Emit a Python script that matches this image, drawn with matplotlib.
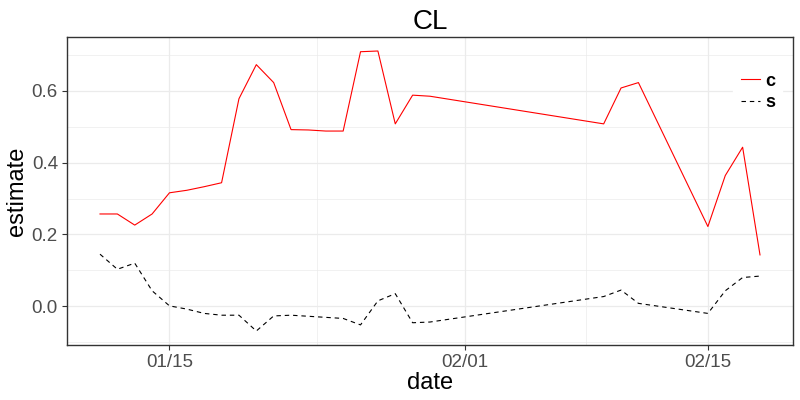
import numpy as np
import pandas as pd
import matplotlib
matplotlib.use('Agg')
import matplotlib.pyplot as plt
import matplotlib.dates as mdates

plt.rcParams['font.family'] = ['Liberation Sans', 'DejaVu Sans']

# dates shared by both series
dates = ['2024-01-11', '2024-01-12', '2024-01-13', '2024-01-14', '2024-01-15',
         '2024-01-16', '2024-01-17', '2024-01-18', '2024-01-19', '2024-01-20',
         '2024-01-21', '2024-01-22', '2024-01-23', '2024-01-24', '2024-01-25',
         '2024-01-26', '2024-01-27', '2024-01-28', '2024-01-29', '2024-01-30',
         '2024-02-09', '2024-02-10', '2024-02-11', '2024-02-15', '2024-02-16',
         '2024-02-17', '2024-02-18']
c_vals = [0.257, 0.257, 0.226, 0.257, 0.316,
          0.323, 0.333, 0.344, 0.578, 0.673,
          0.623, 0.492, 0.491, 0.488, 0.488,
          0.709, 0.711, 0.508, 0.588, 0.585,
          0.508, 0.608, 0.623, 0.222, 0.364,
          0.443, 0.143]
s_vals = [0.145, 0.103, 0.120, 0.043, 0.001,
          -0.008, -0.020, -0.025, -0.025, -0.069,
          -0.027, -0.025, -0.028, -0.031, -0.034,
          -0.052, 0.015, 0.035, -0.046, -0.044,
          0.027, 0.045, 0.008, -0.020, 0.043,
          0.080, 0.084]
x_ticks = ['2024-01-15', '2024-02-01', '2024-02-15']
x_minor = ['2024-01-08T00:00', '2024-01-23T12:00', '2024-02-08T00:00']
y_ticks = [0.0, 0.2, 0.4, 0.6]
y_minor = [-0.1, 0.1, 0.3, 0.5, 0.7]

d = pd.to_datetime(dates)

fig = plt.figure(figsize=(8, 4), dpi=100)
ax = fig.add_axes([67 / 800, 1 - 345 / 400, (793 - 67) / 800, (345 - 37) / 400])

grid_col = '#EBEBEB'
for v in y_minor:
    ax.axhline(v, color=grid_col, lw=0.5, zorder=0)
for v in y_ticks:
    ax.axhline(v, color=grid_col, lw=0.9, zorder=0)
for v in pd.to_datetime(x_minor, format='ISO8601'):
    ax.axvline(v, color=grid_col, lw=0.5, zorder=0)
for v in pd.to_datetime(x_ticks):
    ax.axvline(v, color=grid_col, lw=0.9, zorder=0)

ax.plot(d, c_vals, color='red', lw=0.8, label='c', zorder=3)
ax.plot(d, s_vals, color='black', lw=0.8, linestyle=(0, (4, 3.5)), label='s', zorder=3)

span = d.max() - d.min()
ax.set_xlim(d.min() - span * 0.05, d.max() + span * 0.05)
lo, hi = min(s_vals + c_vals), max(s_vals + c_vals)
ax.set_ylim(lo - (hi - lo) * 0.05, hi + (hi - lo) * 0.05)

ax.set_xticks(pd.to_datetime(x_ticks))
ax.xaxis.set_major_formatter(mdates.DateFormatter('%m/%d'))
ax.set_yticks(y_ticks)
ax.set_yticklabels(['0.0', '0.2', '0.4', '0.6'])
ax.tick_params(axis='both', length=3.5, width=0.8, color='#333333',
               labelcolor='#4D4D4D', labelsize=13.5, pad=3)
for sp in ax.spines.values():
    sp.set_color('#333333')
    sp.set_linewidth(1.0)

ax.set_title('CL', fontsize=20, pad=6)
ax.set_xlabel('date', fontsize=17, labelpad=1)
ax.set_ylabel('estimate', fontsize=17, labelpad=3)

leg = ax.legend(loc='upper right', bbox_to_anchor=(0.9975, 0.937), frameon=True,
                fancybox=False, edgecolor='white', framealpha=1,
                handlelength=1.1, handletextpad=0.25, labelspacing=0.25,
                borderpad=0.4, prop={'size': 13, 'weight': 'bold'})
leg.set_zorder(5)

fig.savefig('out.png', dpi=100)
